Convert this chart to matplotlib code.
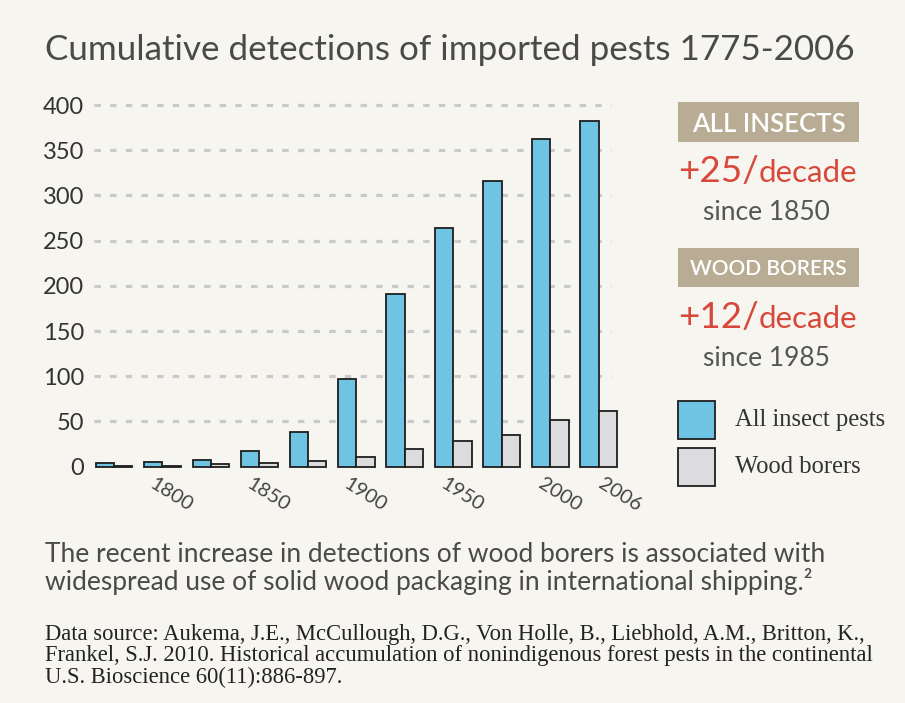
import matplotlib.pyplot as plt
import matplotlib.transforms as mtransforms
import numpy as np

# data
years = ["1775", "1800", "1825", "1850", "1875", "1900", "1925", "1950", "1975", "2000", "2006"]
all_insects = [4, 5, 7, 17, 38, 97, 191, 264, 316, 363, 382]
wood_borers = [1, 1, 3, 4, 6, 11, 20, 28, 35, 52, 62]
shown_labels = ["1800", "1850", "1900", "1950", "2000", "2006"]
y_ticks = [0, 50, 100, 150, 200, 250, 300, 350, 400]

bg = "#f7f5f0"
blue = "#6fc4e4"
grey_bar = "#dcdcdf"
tan = "#b8ad94"
red = "#d8483a"
text_col = "#4a4a4a"
sans = ["Lato", "DejaVu Sans"]
serif = ["Liberation Serif", "DejaVu Serif"]

W, H = 905, 703
fig = plt.figure(figsize=(9.05, 7.03), dpi=100, facecolor=bg)
ax = fig.add_axes([0.1034, 0.3323, 0.5825, 0.5247])
ax.set_facecolor(bg)

x = np.arange(len(years))
w = 0.38

# dashed grid lines behind bars
for t in y_ticks[1:]:
    ax.plot([-0.42, 10.25], [t, t], color="#c9c9c9", lw=2.3, ls=(0, (2.0, 2.9)),
            dash_capstyle="butt", zorder=1)

ax.bar(x - w / 2, all_insects, w, color=blue, edgecolor="#1e1e1e", lw=1.3, zorder=3)
ax.bar(x + w / 2, wood_borers, w, color=grey_bar, edgecolor="#1e1e1e", lw=1.3, zorder=3)

ax.set_xlim(-0.42, 10.45)
ax.set_ylim(-3, 405)
for s in ax.spines.values():
    s.set_visible(False)
ax.set_xticks([])
ax.set_yticks(y_ticks)
ax.set_yticklabels([str(t) for t in y_ticks], fontsize=17, color="#333333", family=sans)
ax.tick_params(axis="y", length=0, pad=7)

# rotated year labels
for lab in shown_labels:
    i = years.index(lab)
    dx = 21 if lab == "2006" else 9
    off = mtransforms.offset_copy(ax.transData, fig=fig, x=dx, y=0, units="dots")
    ax.text(i, -31, lab, transform=off, rotation=-32, ha="center", va="center",
            fontsize=14.5, color="#444444", family=sans, clip_on=False)

# title
fig.text(45 / W, 1 - 60 / H, "Cumulative detections of imported pests 1775-2006",
         fontsize=25.2, color=text_col, family=sans, va="baseline")

# right-hand callouts
def callout(box_top, box_bot, label, size, rate, since, y_rate, y_since):
    fig.patches.append(plt.Rectangle((678 / W, 1 - box_bot / H), 181 / W,
                                     (box_bot - box_top) / H,
                                     transform=fig.transFigure, fc=tan, ec="none"))
    fig.text(768.5 / W, 1 - (box_top + box_bot) / 2 / H, label, ha="center", va="center_baseline",
             fontsize=size, color="white", family=sans, weight="semibold")
    t = fig.text(678 / W, 1 - y_rate / H, "+" + rate + "/", fontsize=26.5,
                 color=red, family=sans, va="baseline")
    fig.canvas.draw()
    bb = t.get_window_extent()
    fig.text(bb.x1 / W, 1 - y_rate / H, "decade", fontsize=22.5,
             color=red, family=sans, va="baseline")
    fig.text(766 / W, 1 - y_since / H, since, ha="center", va="baseline",
             fontsize=19, color="#555555", family=sans)

callout(102, 142, "ALL INSECTS", 18.5, "25", "since 1850", 182, 220)
callout(248, 287, "WOOD BORERS", 15, "12", "since 1985", 328, 366)

# legend
for col, lab, yc in [(blue, "All insect pests", 420), (grey_bar, "Wood borers", 467)]:
    fig.patches.append(plt.Rectangle((678 / W, 1 - (yc + 19) / H), 37 / W, 38 / H,
                                     transform=fig.transFigure, fc=col, ec="#1e1e1e", lw=1.3))
    fig.text(735 / W, 1 - yc / H, lab, fontsize=17.7, color="#333333",
             family=serif, va="center")

# caption
fig.text(45 / W, 1 - 562 / H,
         "The recent increase in detections of wood borers is associated with",
         fontsize=19, color=text_col, family=sans, va="baseline")
fig.text(45 / W, 1 - 590 / H,
         "widespread use of solid wood packaging in international shipping.\u00b2",
         fontsize=19, color=text_col, family=sans, va="baseline")

source = ["Data source: Aukema, J.E., McCullough, D.G., Von Holle, B., Liebhold, A.M., Britton, K.,",
          "Frankel, S.J. 2010. Historical accumulation of nonindigenous forest pests in the continental",
          "U.S. Bioscience 60(11):886-897."]
for k, line in enumerate(source):
    fig.text(45 / W, 1 - (640 + 21.5 * k) / H, line, fontsize=16.3,
             color="#222222", family=serif, va="baseline")

fig.savefig("out.png", dpi=100, facecolor=bg)
